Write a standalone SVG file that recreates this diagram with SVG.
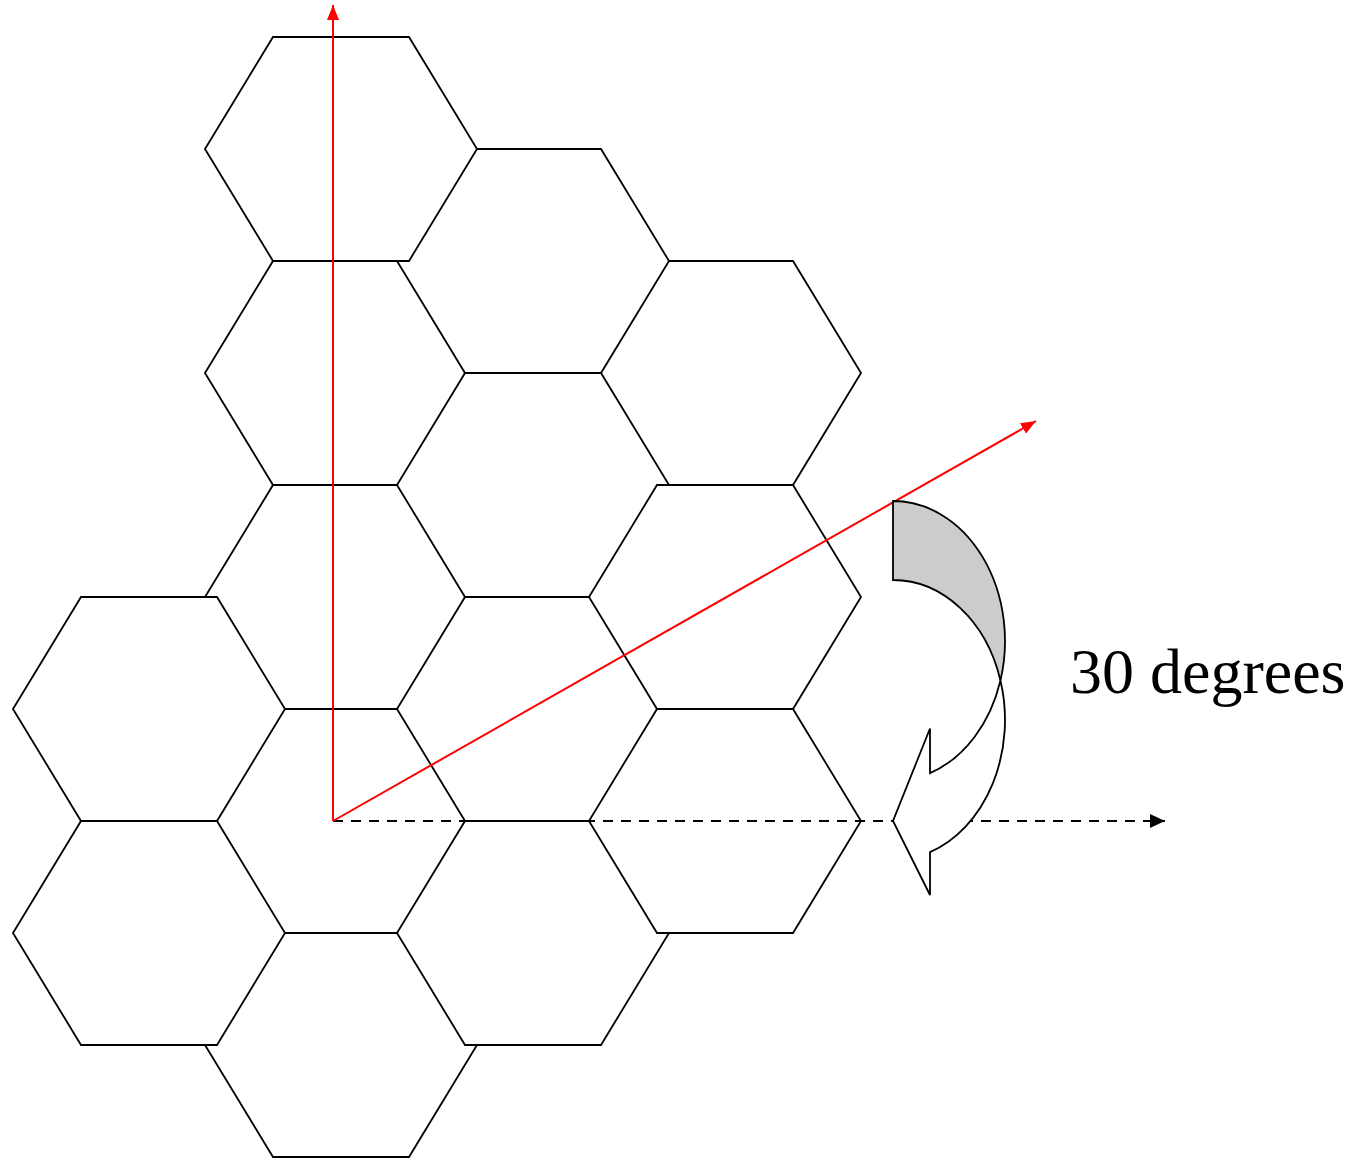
<svg xmlns="http://www.w3.org/2000/svg" xmlns:xlink="http://www.w3.org/1999/xlink" width="1363" height="1158" viewBox="0 0 1363 1158">
<style>
.hex{fill:#ffffff;stroke:#000000;stroke-width:1.8;stroke-linejoin:miter}
.red{stroke:#ff0000;stroke-width:2;fill:none}
.dash{stroke:#000000;stroke-width:2;stroke-dasharray:10 8;fill:none}
.shape{stroke:#000000;stroke-width:1.8;stroke-linejoin:miter}
.label{font-family:"Liberation Serif","Times New Roman",serif;font-size:64px;fill:#000000}
</style>
<defs>
<polygon id="hx" points="-68,-112 68,-112 136,0 68,112 -68,112 -136,0"/>
<marker id="ar" markerUnits="userSpaceOnUse" markerWidth="16" markerHeight="12" refX="15" refY="6" orient="auto">
<path d="M0,0 L15,6 L0,12 Z" fill="#ff0000"/>
</marker>
<marker id="ab" markerUnits="userSpaceOnUse" markerWidth="16" markerHeight="14" refX="15" refY="7" orient="auto">
<path d="M0,0 L15,7 L0,14 Z" fill="#000000"/>
</marker>
</defs>
<rect x="0" y="0" width="1363" height="1158" fill="#ffffff"/>
<g id="cells">
<g id="hex-d1"><use xlink:href="#hx" href="#hx" class="hex" x="725" y="373"/></g>
<g id="hex-b2"><use xlink:href="#hx" href="#hx" class="hex" x="341" y="373"/></g>
<g id="hex-b3"><use xlink:href="#hx" href="#hx" class="hex" x="341" y="597"/></g>
<g id="hex-b4"><use xlink:href="#hx" href="#hx" class="hex" x="341" y="821"/></g>
<g id="hex-b5"><use xlink:href="#hx" href="#hx" class="hex" x="341" y="1045"/></g>
<g id="hex-a1"><use xlink:href="#hx" href="#hx" class="hex" x="149" y="709"/></g>
<g id="hex-a2"><use xlink:href="#hx" href="#hx" class="hex" x="149" y="933"/></g>
<g id="hex-c1"><use xlink:href="#hx" href="#hx" class="hex" x="533" y="261"/></g>
<g id="hex-b1"><use xlink:href="#hx" href="#hx" class="hex" x="341" y="149"/></g>
<g id="hex-c2"><use xlink:href="#hx" href="#hx" class="hex" x="533" y="485"/></g>
<g id="hex-c3"><use xlink:href="#hx" href="#hx" class="hex" x="533" y="709"/></g>
<g id="hex-c4"><use xlink:href="#hx" href="#hx" class="hex" x="533" y="933"/></g>
<g id="hex-d2"><use xlink:href="#hx" href="#hx" class="hex" x="725" y="597"/></g>
<g id="hex-d3"><use xlink:href="#hx" href="#hx" class="hex" x="725" y="821"/></g>
</g>
<g id="connectors">
<line class="dash" x1="333" y1="821" x2="1165" y2="821" marker-end="url(#ab)"/>
<line class="red" x1="333" y1="821" x2="333" y2="5" marker-end="url(#ar)"/>
<line class="red" x1="333" y1="821" x2="1036" y2="421" marker-end="url(#ar)"/>
</g>
<g id="rotation-arrow">
<path class="shape" fill="#cccccc" d="M893,580 L893,501 A112,140 0 0 1 1000.45,680.5 A112,140 0 0 0 893,580 Z"/>
<path class="shape" fill="#ffffff" d="M1000.45,680.5 A112,140 0 0 1 930,852.1 L930,895 L893,821 L930,728.5 L930,773.1 A112,140 0 0 0 1000.45,680.5 Z"/>
</g>
<g id="label">
<text class="label" x="1070" y="693">30 degrees</text>
</g>
</svg>
